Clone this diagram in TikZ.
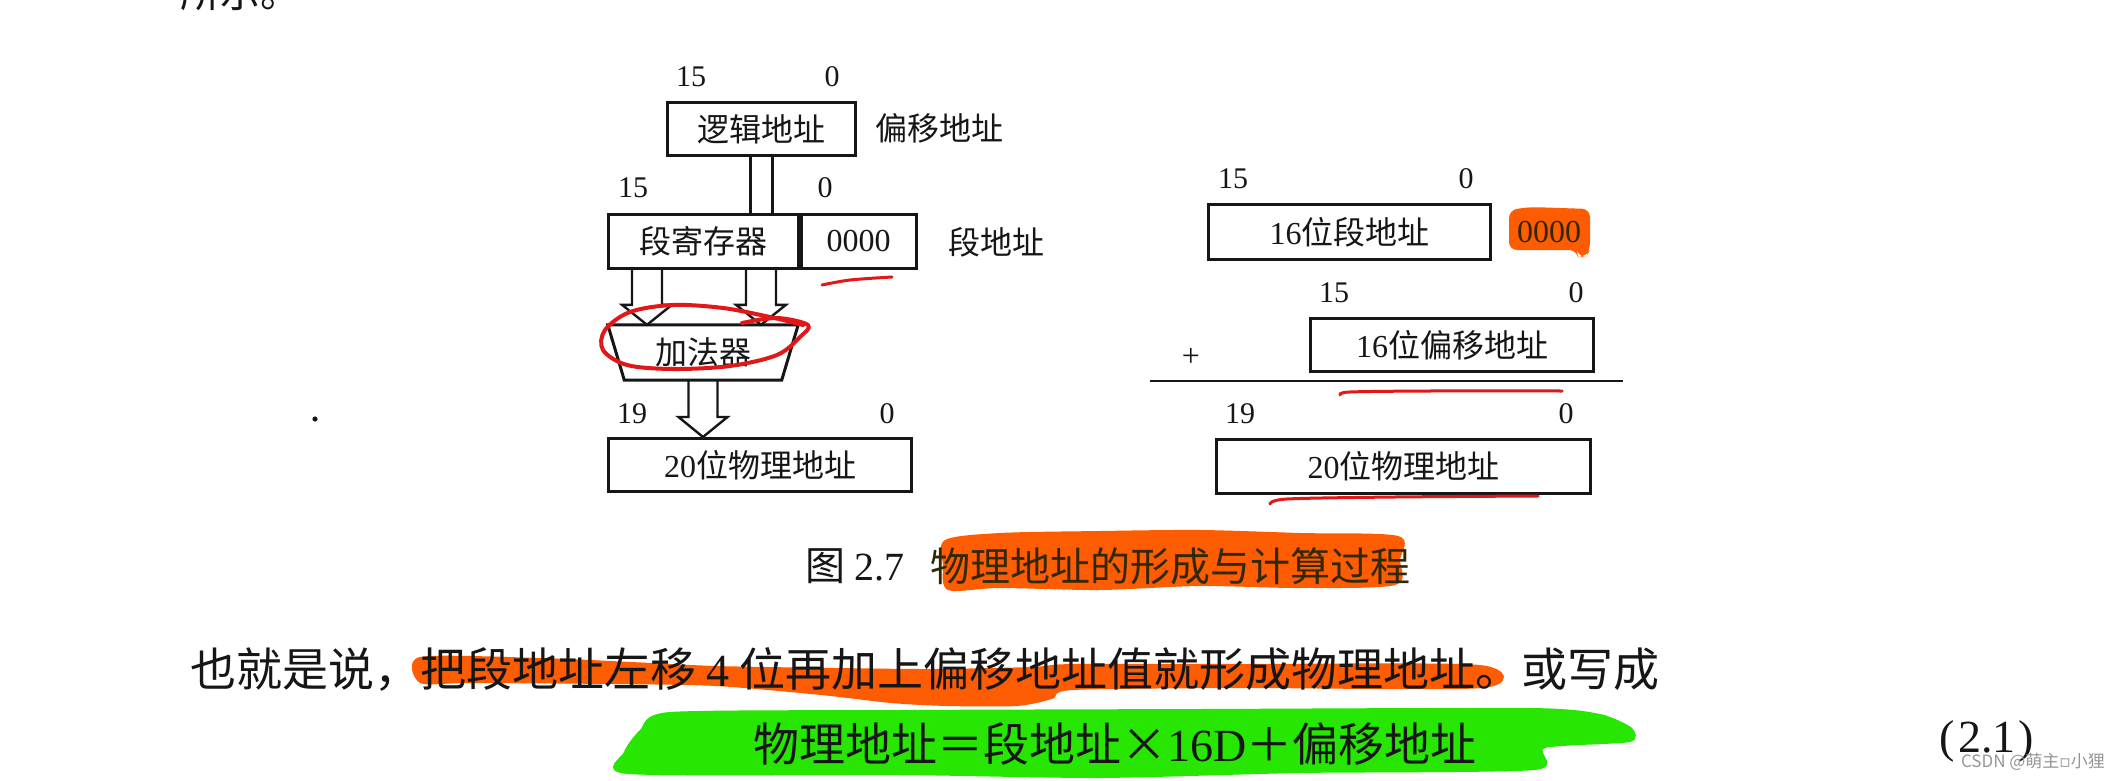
\documentclass[tikz,border=0pt]{standalone}
\usepackage{fontspec}
\setmainfont{Liberation Serif}
\newfontfamily\cjk{Noto Sans CJK SC}
\newfontfamily\djv{DejaVu Sans}
\usetikzlibrary{calc}
\definecolor{inkblack}{RGB}{22,22,22}
\definecolor{hlorange}{RGB}{253,92,2}
\definecolor{hlgreen}{RGB}{38,230,2}
\definecolor{penred}{RGB}{226,24,24}
\definecolor{hltext}{RGB}{48,40,0}
\definecolor{wmgray}{RGB}{150,150,150}
\newcommand\mydgmfont{\fontsize{32}{36}\selectfont\cjk}
\newcommand\mynumfont{\fontsize{30}{34}\selectfont\rmfamily}
\newcommand\myparafont{\fontsize{46}{50}\selectfont\cjk}
\newcommand\mycapfont{\fontsize{40}{44}\selectfont\cjk}
\newcommand\hollowarr[4]{%
  \draw[arrowline] let \p1=(#1), \p2=(#2) in
    (\x1-#3pt,\y1) -- (\x1-#3pt,\y2+#4pt) -- (\x1-#3pt-10pt,\y2+#4pt)
    -- (\x1,\y2) -- (\x1+#3pt+10pt,\y2+#4pt) -- (\x1+#3pt,\y2+#4pt) -- (\x1+#3pt,\y1);}
\tikzset{
  boxst/.style={draw=inkblack, line width=3pt, inner sep=0pt, font=\mydgmfont, text=inkblack},
  numst/.style={inner sep=0pt, font=\mynumfont, text=inkblack},
  lblst/.style={inner sep=0pt, font=\mydgmfont, text=inkblack},
  arrowline/.style={draw=inkblack, line width=2.4pt, line join=miter},
  penst/.style={draw=penred, line width=4pt, line cap=round, line join=round},
}
\begin{document}
\begin{tikzpicture}[x=1pt,y=-1pt]
\useasboundingbox (0,0) rectangle (2128,781);
\fill[white] (0,0) rectangle (2128,781);
\clip (0,0) rectangle (2128,781);

\node[anchor=base west, inner sep=0pt, font=\mycapfont, text=inkblack] (topline) at (180,8) {所示。};
\fill[inkblack] (315,419) circle (2.6pt);

% ---------- left diagram
\node[numst] (l15a) at (691,77) {15};
\node[numst] (l0a) at (832,77) {0};
\node[boxst, minimum width=188pt, minimum height=53pt] (logic) at (761.5,129) {逻辑地址};
\node[lblst] (offlbl) at (939,128) {偏移地址};
\node[numst] (l15b) at (633,188) {15};
\node[numst] (l0b) at (825,188) {0};
\node[boxst, minimum width=190pt, minimum height=54pt] (seg) at (703,241.5) {段寄存器};
\node[boxst, minimum width=115pt, minimum height=54pt, anchor=west] (zero) at (seg.east) {{\rmfamily 0000}};
\node[lblst] (seglbl) at (996,242) {段地址};

\node[inner sep=0pt, minimum width=190pt, minimum height=55pt, font=\mydgmfont, text=inkblack] (adder) at (703,352.5) {加法器};
\draw[arrowline, line width=3pt] (adder.north west) -- (adder.north east) -- ($(adder.south east)+(-16.5,0)$) -- ($(adder.south west)+(16.5,0)$) -- cycle;

\node[numst] (l19a) at (632,414) {19};
\node[numst] (l0c) at (887,414) {0};
\node[boxst, minimum width=303pt, minimum height=53pt] (phys) at (760,465) {{\rmfamily 20}位物理地址};

\draw[arrowline] let \p1=(logic.south), \p2=(seg.north) in (\x1-11pt,\y1) -- (\x1-11pt,\y2) (\x1+11pt,\y1) -- (\x1+11pt,\y2);
\hollowarr{$(seg.south)+(-56,0)$}{adder.north}{15}{20}
\hollowarr{$(seg.south)+(58,0)$}{adder.north}{15}{20}
\hollowarr{adder.south}{phys.north}{14.5}{20}

\draw[penst] plot[smooth, tension=0.55] coordinates {(742,323) (777,318) (808,325) (800,337) (777,355) (730,366) (673,369) (627,365) (603,350) (605,330) (630,312) (673,305) (723,308) (770,317) (803,325)};
\draw[penst, line width=3pt] plot[smooth] coordinates {(822,285) (850,280) (892,277)};

% ---------- right diagram
\node[numst] (r15a) at (1233,179) {15};
\node[numst] (r0a) at (1466,179) {0};
\node[boxst, minimum width=282pt, minimum height=55pt] (segaddr) at (1349.5,232) {{\rmfamily 16}位段地址};
\fill[hlorange, rounded corners=8pt] (1509,210) -- (1530,207) -- (1590,209) -- (1590,250) -- (1586,257) -- (1578,257) -- (1577,250) -- (1509,250) -- cycle;
\node[inner sep=0pt, font=\fontsize{32}{36}\selectfont\rmfamily, text=hltext] (rzero) at (1549,232) {0000};
\node[numst] (r15b) at (1334,293) {15};
\node[numst] (r0b) at (1576,293) {0};
\node[boxst, minimum width=283pt, minimum height=53pt] (offaddr) at (1452,345) {{\rmfamily 16}位偏移地址};
\node[inner sep=0pt, font=\fontsize{32}{36}\selectfont\rmfamily, text=inkblack] (plus) at (1191,357) {+};
\coordinate (ruleL) at (1150,381);
\coordinate (ruleR) at (1623,381);
\draw[inkblack, line width=2.2pt] (ruleL) -- (ruleR);
\node[numst] (r19) at (1240,414) {19};
\node[numst] (r0c) at (1566,414) {0};
\node[boxst, minimum width=374pt, minimum height=54pt] (physr) at (1403.5,466.5) {{\rmfamily 20}位物理地址};
\draw[penst, line width=3pt] plot[smooth] coordinates {(1340,395) (1350,392) (1430,391) (1562,391)};
\draw[penst, line width=3pt] plot[smooth] coordinates {(1270,504) (1287,499) (1395,497) (1538,496)};

% ---------- caption
\fill[hlorange] plot[smooth cycle, tension=0.5] coordinates {(945,540) (1000,533) (1100,531) (1200,530) (1300,533) (1398,536) (1400,560) (1395,585) (1300,588) (1200,586) (1100,590) (1000,588) (948,590) (943,565)};
\node[font=\mycapfont, inner sep=0pt, text=inkblack] (fignum) at (855,566) {图 {\rmfamily 2.7}};
\node[font=\mycapfont, inner sep=0pt, text=hltext] (captxt) at (1170,566) {物理地址的形成与计算过程};

% ---------- paragraph
\fill[hlorange] plot[smooth cycle, tension=0.45] coordinates {(420,657) (540,658) (631,662) (716,666) (835,668) (933,669) (1031,667) (1073,664) (1242,664) (1480,665) (1483,688) (1242,688) (1073,690) (1052,699) (1017,706) (947,706) (891,703) (821,695) (716,686) (610,684) (470,683) (420,683)};
\node[font=\myparafont, anchor=west, inner sep=0pt, text=inkblack] (para) at (190,669) {也就是说，把段地址左移 {\rmfamily 4} 位再加上偏移地址值就形成物理地址。或写成};

\fill[hlgreen] plot[smooth cycle, tension=0.4] coordinates {(670,712) (900,710) (1200,709) (1530,708) (1600,714) (1632,728) (1630,742) (1545,748) (1535,770) (1300,773) (1100,778) (900,775) (628,774) (624,752) (640,730)};
\node[font=\myparafont, inner sep=0pt, text=inkblack] (formula) at (1115,744) {物理地址＝段地址×{\rmfamily 16D}＋偏移地址};

\node[font=\fontsize{46}{50}\selectfont\rmfamily, inner sep=0pt, text=inkblack] (eqno) at (1987,741) {(\hspace{3pt}2.1\hspace{3pt})};
\node[font=\fontsize{17}{20}\selectfont\cjk, inner sep=0pt, text=wmgray] (wm) at (2033,762) {CSDN @萌主{\djv ▫}小狸};
\end{tikzpicture}
\end{document}
